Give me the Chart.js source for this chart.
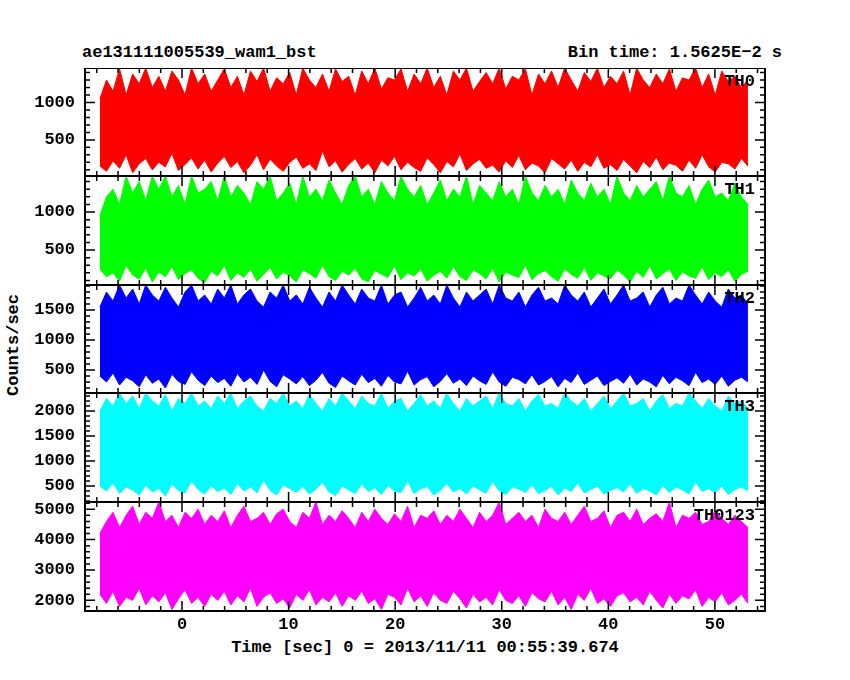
<!DOCTYPE html>
<html>
<head>
<meta charset="utf-8">
<script src="https://cdn.jsdelivr.net/npm/chart.js@4"></script>
<style>
body { margin: 0; background: #fff; }
#wrap { position: relative; width: 850px; height: 680px; }
canvas { position: absolute; left: 0; }
.txt { position: absolute; font: bold 17px "Liberation Mono", monospace; color: #000; white-space: nowrap; }
</style>
</head>
<body>
<div id="wrap">
  <div class="txt" style="left:82px;top:43px">ae131111005539_wam1_bst</div>
  <div class="txt" style="right:68px;top:43px">Bin time: 1.5625E−2 s</div>
  <div class="txt" style="transform:rotate(-90deg);transform-origin:left top;left:4px;top:396px">Counts/sec</div>
  <div class="txt" style="left:0;width:850px;text-align:center;top:638px">Time [sec] 0 = 2013/11/11 00:55:39.674</div>
</div>
<script>
// time span of the light curve (s)
let tStart = -7.7;
let tEnd = 53.1;
let xMin = -9.1;
let xMax = 54.7;

let panelNames = ["TH0", "TH1", "TH2", "TH3", "TH0123"];
let panelColors = ["#ff0000", "#00ff00", "#0000ff", "#00ffff", "#ff00ff"];
let yMins = [17, 40, 117, 180, 1650];
let yMaxs = [1461, 1474, 1917, 2360, 5238];
let yMajor = [500, 500, 500, 500, 1000];
let yMinor = [100, 100, 100, 100, 200];
let yLabels = [[500, 1000], [500, 1000], [500, 1000, 1500], [500, 1000, 1500, 2000], [2000, 3000, 4000, 5000]];
let xLabels = [0, 10, 20, 30, 40, 50];

let th0Hi = [1050,1300,1150,1450,1100,1380,1250,1460,1200,1350,1150,1420,1300,1100,1460,1250,1380,1150,1300,1450,
  1200,1350,1100,1420,1280,1460,1150,1330,1250,1400,1100,1460,1300,1200,1380,1150,1450,1280,1350,1100,
  1420,1250,1460,1180,1330,1300,1450,1150,1380,1250,1460,1200,1350,1100,1420,1300,1460,1150,1280,1400,
  1250,1460,1180,1350,1300,1450,1100,1380,1250,1420,1200,1460,1300,1150,1400,1280,1460,1200,1350,1250,
  1420,1100,1460,1300,1200,1380,1250,1450,1150,1330,1300,1460,1200,1380,1100,1420,1280,1350,1200,1300];
let th0Lo = [150,80,220,120,300,60,180,250,100,200,140,320,90,170,260,110,230,70,190,280,
  130,210,60,160,300,100,240,150,80,200,270,120,180,90,350,140,220,70,170,250,
  110,190,60,230,150,280,100,200,130,80,260,170,60,210,140,310,90,180,240,120,
  160,70,220,130,290,100,190,150,60,250,180,110,230,80,200,140,300,120,170,90,
  240,150,60,210,130,270,100,190,160,80,230,120,300,140,70,200,180,110,250,150];

let th1Hi = [950,1200,1300,1100,1474,1250,1400,1150,1474,1300,1474,1200,1350,1100,1474,1250,1300,1400,1150,1474,
  1200,1350,1250,1100,1400,1300,1474,1150,1250,1380,1100,1474,1200,1300,1150,1420,1250,1100,1350,1474,
  1200,1300,1100,1400,1250,1150,1474,1300,1200,1350,1100,1250,1420,1150,1300,1200,1474,1100,1350,1250,
  1150,1400,1200,1300,1100,1474,1250,1150,1350,1200,1300,1100,1420,1250,1150,1380,1200,1300,1100,1474,
  1250,1150,1350,1200,1300,1400,1150,1474,1250,1200,1350,1100,1300,1420,1200,1250,1150,1380,1200,1100];
let th1Lo = [250,150,200,90,300,170,120,260,80,210,150,280,110,190,240,130,70,220,160,300,
  100,200,140,250,90,180,270,120,210,160,80,240,190,130,300,150,100,220,170,260,
  120,80,230,180,140,290,110,200,160,250,90,170,220,130,280,150,100,240,190,120,
  260,80,210,170,140,300,110,190,230,150,90,250,180,130,270,100,200,160,120,240,
  170,80,220,140,290,120,190,250,100,210,160,130,280,110,200,150,240,90,180,220];

let th2Hi = [1550,1800,1650,1917,1700,1850,1600,1917,1750,1650,1880,1700,1550,1800,1917,1650,1750,1600,1850,1700,
  1917,1600,1750,1850,1650,1550,1800,1700,1917,1650,1750,1600,1880,1700,1550,1800,1650,1917,1750,1600,
  1850,1700,1650,1917,1600,1750,1800,1550,1700,1880,1650,1750,1600,1917,1700,1550,1800,1650,1750,1850,
  1600,1917,1700,1650,1800,1550,1750,1880,1650,1700,1600,1917,1750,1650,1800,1550,1700,1850,1600,1750,
  1917,1650,1700,1800,1550,1750,1880,1600,1700,1650,1917,1750,1600,1800,1650,1550,1850,1700,1750,1600];
let th2Lo = [400,300,450,250,380,320,220,420,280,350,200,430,310,260,470,330,240,400,290,360,
  230,440,300,380,260,500,310,220,420,350,270,390,240,330,460,280,210,400,320,250,
  430,290,360,230,410,300,270,480,250,340,390,220,310,440,280,350,240,400,320,260,
  470,300,230,380,340,270,420,250,310,390,220,360,290,450,260,330,400,240,310,370,
  280,430,250,350,300,220,410,270,380,320,240,460,290,350,260,400,230,330,380,300];

let th3Hi = [2000,2250,2100,2360,2150,2300,2050,2360,2200,2100,2330,2000,2250,2150,2360,2100,2200,2050,2300,2150,
  2360,2050,2200,2300,2100,2000,2250,2150,2360,2100,2200,2050,2330,2150,2000,2250,2100,2360,2200,2050,
  2300,2150,2100,2360,2050,2200,2250,2000,2150,2330,2100,2200,2050,2360,2150,2000,2250,2100,2200,2300,
  2050,2360,2150,2100,2250,2000,2200,2330,2100,2150,2050,2360,2200,2100,2250,2000,2150,2300,2050,2200,
  2360,2100,2150,2250,2000,2200,2330,2050,2150,2100,2360,2200,2050,2250,2100,2000,2300,2150,2200,2050];
let th3Lo = [500,400,560,350,480,420,320,520,380,450,300,540,410,360,600,430,340,500,390,460,
  330,550,400,480,360,620,410,320,520,450,370,490,340,430,580,380,310,500,420,350,
  540,390,460,330,510,400,370,600,350,440,490,320,410,550,380,450,340,500,420,360,
  590,400,330,480,440,370,520,350,410,490,320,460,390,560,360,430,500,340,410,470,
  380,540,350,450,400,320,510,370,480,420,340,580,390,450,360,500,330,430,480,400];

let th0123Hi = [4200,4600,4900,4400,4800,5100,4500,4900,4700,5238,4600,4800,4400,4900,4700,5000,4500,4800,4600,4950,
  4400,4800,5100,4600,4700,4900,4500,4850,5000,4600,4400,4900,4700,5238,4500,4800,4600,4950,4700,4400,
  4900,4600,5000,4700,4500,4850,4600,5100,4400,4800,4700,4950,4500,4800,4600,5000,4700,4400,4900,4600,
  4800,5238,4500,4700,4900,4600,4800,4400,5000,4700,4600,4900,4500,4800,5100,4600,4700,4950,4400,4800,
  4900,4600,5000,4500,4700,4850,4600,5238,4400,4800,4700,4900,4500,4600,4950,4700,4500,4800,4600,4400];
let th0123Lo = [2200,1900,2300,1800,2100,2000,2400,1850,2150,1950,2250,1700,2050,2350,1900,2100,1800,2200,2000,2300,
  1850,2150,1950,2400,1800,2100,2250,1900,2050,1750,2200,2000,2350,1850,2100,1950,2250,1800,2150,2000,
  2300,1900,2050,1700,2200,2100,1850,2400,1950,2150,1800,2250,2000,1900,2300,2050,1750,2200,1950,2100,
  1850,2350,2000,1900,2150,1800,2250,2050,1950,2300,1850,2100,1700,2200,2000,2400,1900,2050,1800,2150,
  2250,1950,2100,1850,2300,2000,1750,2200,1900,2150,2050,2350,1800,2100,1950,2250,1850,2000,2200,1900];

let panelHi = [th0Hi, th1Hi, th2Hi, th3Hi, th0123Hi];
let panelLo = [th0Lo, th1Lo, th2Lo, th3Lo, th0123Lo];
let panelTops = [68, 176, 285, 393, 502];
let panelBottom = 611;

let font = 'bold 17px "Liberation Mono", monospace';

function toPoints(arr) {
    let step = (tEnd - tStart) / (arr.length - 1);
    return arr.map(function(v, i) { return { x: tStart + i * step, y: v }; });
}

function makeFramePlugin(p) {
    return {
        id: "frame" + p,
        afterDraw: function(chart) {
            let ctx = chart.ctx;
            let a = chart.chartArea;
            let xs = chart.scales.x;
            let ys = chart.scales.y;
            ctx.save();
            ctx.strokeStyle = "#000";
            ctx.lineWidth = 2;
            ctx.strokeRect(a.left, a.top, a.right - a.left, a.bottom - a.top);
            ctx.lineWidth = 1.5;
            ctx.beginPath();
            // x ticks, inward on top and bottom
            for (let t = -8; t <= 54; t += 2) {
                let px = xs.getPixelForValue(t);
                let len = (t % 10 === 0) ? 10 : 5;
                ctx.moveTo(px, a.bottom); ctx.lineTo(px, a.bottom - len);
                ctx.moveTo(px, a.top); ctx.lineTo(px, a.top + len);
            }
            // y ticks, inward on left and right
            let first = Math.ceil(yMins[p] / yMinor[p]) * yMinor[p];
            for (let v = first; v <= yMaxs[p]; v += yMinor[p]) {
                let py = ys.getPixelForValue(v);
                let len = (v % yMajor[p] === 0) ? 10 : 5;
                ctx.moveTo(a.left, py); ctx.lineTo(a.left + len, py);
                ctx.moveTo(a.right, py); ctx.lineTo(a.right - len, py);
            }
            ctx.stroke();
            ctx.fillStyle = "#000";
            ctx.font = font;
            ctx.textAlign = "right";
            ctx.textBaseline = "middle";
            yLabels[p].forEach(function(v) {
                ctx.fillText(String(v), a.left - 10, ys.getPixelForValue(v));
            });
            ctx.fillText(panelNames[p], a.right - 10, a.top + 14);
            if (p === 4) {
                ctx.textAlign = "center";
                ctx.textBaseline = "top";
                xLabels.forEach(function(v) {
                    ctx.fillText(String(v), xs.getPixelForValue(v), a.bottom + 5);
                });
            }
            ctx.restore();
        }
    };
}

let wrap = document.getElementById("wrap");
for (let p = 0; p < 5; p++) {
    let top = panelTops[p];
    let bottom = p < 4 ? panelTops[p + 1] : panelBottom;
    let h = bottom - top + (p === 4 ? 25 : 0);
    let c = document.createElement("canvas");
    c.width = 850;
    c.height = h;
    c.style.top = top + "px";
    wrap.appendChild(c);
    new Chart(c.getContext("2d"), {
        type: "line",
        data: {
            datasets: [
                { data: toPoints(panelHi[p]), borderColor: panelColors[p], backgroundColor: panelColors[p],
                  borderWidth: 1, pointRadius: 0, tension: 0, fill: 1 },
                { data: toPoints(panelLo[p]), borderColor: panelColors[p], backgroundColor: panelColors[p],
                  borderWidth: 1, pointRadius: 0, tension: 0, fill: false }
            ]
        },
        options: {
            responsive: false,
            animation: false,
            devicePixelRatio: 1,
            layout: { padding: { left: 85, right: 85, top: 0, bottom: p === 4 ? 25 : 0 } },
            plugins: { legend: { display: false }, tooltip: { enabled: false } },
            scales: {
                x: { type: "linear", min: xMin, max: xMax, display: false },
                y: { min: yMins[p], max: yMaxs[p], display: false }
            }
        },
        plugins: [makeFramePlugin(p)]
    });
}
</script>
</body>
</html>
